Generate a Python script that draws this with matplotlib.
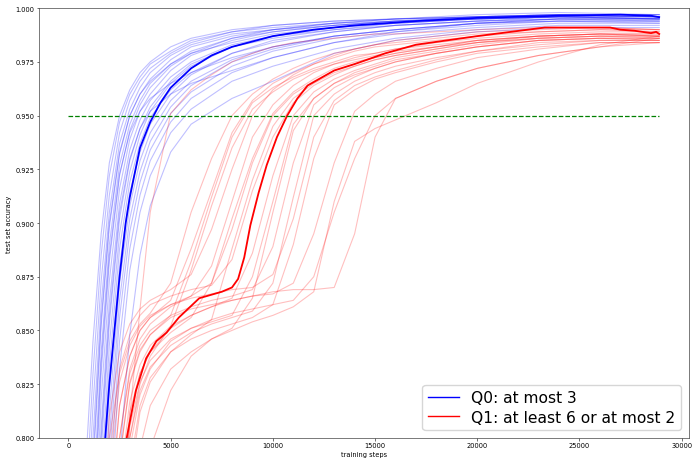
import numpy as np
import matplotlib
matplotlib.use('Agg')
import matplotlib.pyplot as plt
from matplotlib.lines import Line2D


# blue runs (Q0), sampled on a shared step grid
blue_steps = [0, 800, 1200, 1600, 2000, 2500, 3000, 3500, 4000, 5000, 6000,
              8000, 10000, 13000, 16000, 20000, 24000, 28900]
blue_runs = [
    [0.10, 0.78, 0.845, 0.895, 0.928, 0.950, 0.962, 0.970, 0.975, 0.982, 0.986, 0.990, 0.992, 0.994, 0.995, 0.996, 0.997, 0.997],
    [0.10, 0.76, 0.830, 0.885, 0.922, 0.947, 0.960, 0.968, 0.974, 0.980, 0.985, 0.989, 0.991, 0.993, 0.995, 0.996, 0.997, 0.996],
    [0.10, 0.74, 0.815, 0.873, 0.913, 0.942, 0.957, 0.966, 0.972, 0.979, 0.984, 0.989, 0.992, 0.994, 0.995, 0.997, 0.998, 0.997],
    [0.10, 0.72, 0.800, 0.862, 0.905, 0.937, 0.953, 0.963, 0.970, 0.978, 0.983, 0.988, 0.990, 0.993, 0.994, 0.996, 0.997, 0.996],
    [0.10, 0.70, 0.785, 0.852, 0.898, 0.932, 0.950, 0.960, 0.967, 0.976, 0.982, 0.987, 0.990, 0.992, 0.994, 0.995, 0.996, 0.996],
    [0.10, 0.68, 0.770, 0.840, 0.890, 0.927, 0.946, 0.957, 0.965, 0.974, 0.980, 0.986, 0.989, 0.992, 0.994, 0.995, 0.996, 0.995],
    [0.10, 0.66, 0.755, 0.830, 0.882, 0.922, 0.943, 0.955, 0.963, 0.973, 0.979, 0.986, 0.990, 0.993, 0.995, 0.996, 0.997, 0.997],
    [0.10, 0.64, 0.740, 0.818, 0.873, 0.916, 0.939, 0.952, 0.960, 0.971, 0.978, 0.985, 0.989, 0.992, 0.994, 0.996, 0.997, 0.996],
    [0.10, 0.62, 0.725, 0.805, 0.863, 0.909, 0.934, 0.948, 0.957, 0.968, 0.975, 0.983, 0.987, 0.991, 0.993, 0.995, 0.996, 0.996],
    [0.10, 0.60, 0.710, 0.793, 0.853, 0.902, 0.929, 0.944, 0.954, 0.966, 0.974, 0.982, 0.987, 0.990, 0.993, 0.995, 0.996, 0.995],
    [0.10, 0.58, 0.695, 0.780, 0.843, 0.895, 0.924, 0.941, 0.952, 0.965, 0.973, 0.982, 0.986, 0.990, 0.992, 0.994, 0.995, 0.995],
    [0.10, 0.56, 0.680, 0.768, 0.833, 0.888, 0.919, 0.937, 0.949, 0.962, 0.970, 0.979, 0.984, 0.989, 0.992, 0.994, 0.995, 0.995],
    [0.10, 0.54, 0.665, 0.755, 0.823, 0.880, 0.914, 0.933, 0.946, 0.960, 0.969, 0.979, 0.985, 0.989, 0.992, 0.994, 0.996, 0.995],
    [0.10, 0.52, 0.650, 0.742, 0.812, 0.872, 0.908, 0.929, 0.942, 0.957, 0.966, 0.976, 0.982, 0.987, 0.990, 0.993, 0.995, 0.994],
    [0.10, 0.50, 0.635, 0.730, 0.800, 0.864, 0.902, 0.924, 0.938, 0.954, 0.964, 0.975, 0.981, 0.987, 0.990, 0.993, 0.994, 0.994],
    [0.10, 0.48, 0.620, 0.717, 0.790, 0.856, 0.896, 0.919, 0.934, 0.951, 0.961, 0.973, 0.980, 0.986, 0.989, 0.992, 0.994, 0.993],
    [0.10, 0.46, 0.600, 0.700, 0.775, 0.845, 0.888, 0.913, 0.929, 0.947, 0.958, 0.970, 0.977, 0.984, 0.988, 0.991, 0.993, 0.993],
    [0.10, 0.44, 0.580, 0.680, 0.760, 0.832, 0.878, 0.905, 0.922, 0.942, 0.953, 0.966, 0.973, 0.981, 0.986, 0.990, 0.992, 0.992],
    [0.10, 0.40, 0.540, 0.640, 0.720, 0.790, 0.848, 0.885, 0.908, 0.933, 0.946, 0.958, 0.966, 0.979, 0.985, 0.989, 0.991, 0.991],
    [0.10, 0.62, 0.720, 0.800, 0.857, 0.905, 0.930, 0.944, 0.952, 0.960, 0.965, 0.971, 0.977, 0.984, 0.989, 0.993, 0.995, 0.995],
    [0.10, 0.66, 0.760, 0.835, 0.885, 0.923, 0.942, 0.952, 0.958, 0.965, 0.970, 0.977, 0.982, 0.987, 0.990, 0.993, 0.994, 0.994],
    [0.10, 0.70, 0.790, 0.855, 0.900, 0.933, 0.950, 0.960, 0.966, 0.974, 0.979, 0.984, 0.988, 0.991, 0.993, 0.995, 0.996, 0.996],
]

# red runs (Q1), sampled on a shared step grid
red_steps = [0, 1500, 2000, 2500, 3000, 3500, 4000, 5000, 6000, 7000, 8000, 9000,
             10000, 11000, 12000, 13000, 14000, 15000, 16000, 18000, 20000, 23000, 26000, 28900]
red_runs = [
    [0.10, 0.42, 0.58, 0.720, 0.810, 0.860, 0.905, 0.951, 0.962, 0.969, 0.975, 0.979, 0.982, 0.984, 0.985, 0.986, 0.987, 0.988, 0.988, 0.989, 0.990, 0.991, 0.991, 0.990],
    [0.10, 0.70, 0.80, 0.830, 0.845, 0.853, 0.858, 0.872, 0.905, 0.930, 0.950, 0.960, 0.967, 0.972, 0.976, 0.979, 0.981, 0.983, 0.984, 0.986, 0.988, 0.989, 0.990, 0.990],
    [0.10, 0.64, 0.76, 0.815, 0.838, 0.850, 0.856, 0.864, 0.888, 0.915, 0.942, 0.957, 0.965, 0.970, 0.974, 0.977, 0.980, 0.982, 0.983, 0.985, 0.987, 0.989, 0.990, 0.989],
    [0.10, 0.60, 0.72, 0.790, 0.825, 0.840, 0.848, 0.857, 0.882, 0.912, 0.940, 0.956, 0.963, 0.968, 0.972, 0.975, 0.978, 0.979, 0.981, 0.983, 0.985, 0.987, 0.988, 0.988],
    [0.10, 0.55, 0.66, 0.745, 0.800, 0.825, 0.838, 0.852, 0.878, 0.908, 0.935, 0.953, 0.961, 0.967, 0.971, 0.974, 0.976, 0.978, 0.980, 0.982, 0.985, 0.987, 0.988, 0.987],
    [0.10, 0.66, 0.78, 0.826, 0.843, 0.852, 0.857, 0.862, 0.866, 0.880, 0.910, 0.940, 0.955, 0.964, 0.970, 0.974, 0.977, 0.979, 0.981, 0.984, 0.986, 0.988, 0.989, 0.989],
    [0.10, 0.57, 0.68, 0.765, 0.812, 0.830, 0.840, 0.849, 0.856, 0.872, 0.902, 0.930, 0.951, 0.961, 0.967, 0.972, 0.975, 0.977, 0.979, 0.982, 0.985, 0.987, 0.988, 0.988],
    [0.10, 0.62, 0.74, 0.800, 0.832, 0.846, 0.853, 0.861, 0.866, 0.872, 0.897, 0.928, 0.950, 0.960, 0.966, 0.971, 0.974, 0.977, 0.979, 0.982, 0.984, 0.987, 0.988, 0.987],
    [0.10, 0.52, 0.62, 0.710, 0.780, 0.812, 0.826, 0.840, 0.848, 0.855, 0.888, 0.920, 0.945, 0.958, 0.965, 0.970, 0.973, 0.976, 0.978, 0.981, 0.984, 0.986, 0.987, 0.987],
    [0.10, 0.68, 0.79, 0.832, 0.848, 0.857, 0.862, 0.866, 0.869, 0.871, 0.883, 0.915, 0.940, 0.956, 0.964, 0.969, 0.973, 0.976, 0.978, 0.981, 0.984, 0.986, 0.987, 0.987],
    [0.10, 0.58, 0.70, 0.778, 0.817, 0.834, 0.843, 0.852, 0.857, 0.861, 0.865, 0.886, 0.922, 0.950, 0.961, 0.967, 0.971, 0.974, 0.977, 0.980, 0.983, 0.986, 0.987, 0.986],
    [0.10, 0.50, 0.59, 0.680, 0.750, 0.795, 0.815, 0.832, 0.840, 0.846, 0.851, 0.865, 0.905, 0.943, 0.958, 0.965, 0.970, 0.973, 0.976, 0.979, 0.982, 0.985, 0.986, 0.986],
    [0.10, 0.61, 0.73, 0.800, 0.830, 0.843, 0.850, 0.857, 0.861, 0.864, 0.866, 0.869, 0.889, 0.928, 0.955, 0.963, 0.968, 0.972, 0.975, 0.979, 0.982, 0.985, 0.986, 0.985],
    [0.10, 0.55, 0.66, 0.745, 0.800, 0.822, 0.833, 0.843, 0.849, 0.853, 0.856, 0.859, 0.872, 0.912, 0.950, 0.960, 0.966, 0.970, 0.973, 0.977, 0.980, 0.984, 0.985, 0.985],
    [0.10, 0.64, 0.76, 0.815, 0.838, 0.850, 0.856, 0.862, 0.865, 0.867, 0.869, 0.870, 0.876, 0.902, 0.940, 0.957, 0.964, 0.968, 0.971, 0.976, 0.980, 0.983, 0.985, 0.985],
    [0.10, 0.53, 0.63, 0.720, 0.786, 0.815, 0.828, 0.840, 0.846, 0.850, 0.853, 0.856, 0.862, 0.890, 0.930, 0.955, 0.962, 0.967, 0.970, 0.975, 0.979, 0.982, 0.984, 0.984],
    [0.10, 0.60, 0.72, 0.790, 0.826, 0.841, 0.848, 0.856, 0.860, 0.862, 0.864, 0.866, 0.867, 0.872, 0.895, 0.928, 0.952, 0.960, 0.966, 0.972, 0.977, 0.981, 0.984, 0.984],
    [0.10, 0.54, 0.65, 0.735, 0.795, 0.820, 0.832, 0.845, 0.851, 0.855, 0.858, 0.860, 0.862, 0.864, 0.875, 0.905, 0.930, 0.950, 0.958, 0.966, 0.972, 0.978, 0.982, 0.984],
    [0.10, 0.48, 0.57, 0.655, 0.725, 0.770, 0.795, 0.822, 0.838, 0.846, 0.850, 0.854, 0.857, 0.861, 0.868, 0.910, 0.938, 0.944, 0.948, 0.956, 0.965, 0.975, 0.983, 0.987],
    [0.10, 0.56, 0.67, 0.755, 0.808, 0.830, 0.840, 0.851, 0.857, 0.861, 0.864, 0.866, 0.868, 0.869, 0.869, 0.870, 0.895, 0.940, 0.958, 0.966, 0.972, 0.978, 0.982, 0.986],
    [0.10, 0.72, 0.81, 0.840, 0.853, 0.860, 0.864, 0.869, 0.876, 0.897, 0.925, 0.950, 0.962, 0.969, 0.974, 0.978, 0.981, 0.983, 0.985, 0.987, 0.989, 0.990, 0.991, 0.990],
    [0.10, 0.56, 0.67, 0.755, 0.805, 0.826, 0.836, 0.846, 0.851, 0.854, 0.857, 0.875, 0.910, 0.946, 0.958, 0.965, 0.969, 0.972, 0.975, 0.979, 0.982, 0.985, 0.986, 0.986],
]

# bold median curves
blue_med_steps = [0, 1000, 1500, 1800, 2000, 2500, 2800, 3000, 3500, 4000, 4500, 5000, 6000,
                  7000, 8000, 10000, 12000, 14000, 17000, 20000, 24000, 27000, 28500, 28900]
blue_med_acc = [0.10, 0.62, 0.755, 0.800, 0.825, 0.875, 0.900, 0.912, 0.935, 0.947, 0.956, 0.963, 0.972,
                0.978, 0.982, 0.987, 0.990, 0.992, 0.994, 0.9955, 0.9965, 0.997, 0.9965, 0.9958]
red_med_steps = [0, 2000, 2400, 2850, 3300, 3800, 4300, 4800, 5400, 6400, 7500, 8000, 8300, 8600,
                 8900, 9300, 9700, 10200, 10700, 11200, 11700, 13000, 14000, 15500, 17000, 20000,
                 23300, 26500, 27000, 27700, 28500, 28750, 28900]
red_med_acc = [0.10, 0.70, 0.76, 0.800, 0.822, 0.837, 0.845, 0.849, 0.856, 0.865, 0.868, 0.870, 0.874, 0.884,
               0.899, 0.914, 0.927, 0.940, 0.950, 0.958, 0.964, 0.971, 0.974, 0.979, 0.983, 0.987,
               0.991, 0.991, 0.990, 0.9895, 0.9884, 0.989, 0.988]

threshold = 0.95
labels = ['Q0: at most 3', 'Q1: at least 6 or at most 2']


def plot_runs():
    fig = plt.figure(figsize=(6.95, 4.6), dpi=100)
    ax = fig.add_axes([0.056, 0.046, 0.935, 0.934])

    for run in blue_runs:
        ax.plot(blue_steps, run, color='blue', alpha=0.25, linewidth=0.8)
    for run in red_runs:
        ax.plot(red_steps, run, color='red', alpha=0.25, linewidth=0.8)

    ax.plot(blue_med_steps, blue_med_acc, color='blue', linewidth=1.3)
    ax.plot(red_med_steps, red_med_acc, color='red', linewidth=1.3)

    ax.hlines(threshold, 0, 28900, colors='green', linestyles='--', linewidth=0.9)

    ax.set_ylim(0.8, 1.0)
    ax.set_xlim(-1445, 30345)
    ax.set_xticks(np.arange(0, 30001, 5000))
    ax.set_yticks(np.arange(0.8, 1.0001, 0.025))
    ax.yaxis.set_major_formatter(plt.FormatStrFormatter('%.3f'))
    ax.tick_params(labelsize=4.8, length=1.8, width=0.4, pad=1.5)
    for s in ax.spines.values():
        s.set_linewidth(0.5)
        s.set_color('#444444')

    ax.set_xlabel('training steps', fontsize=4.8, labelpad=1.5)
    ax.set_ylabel('test set accuracy', fontsize=4.8, labelpad=2)

    handles = [Line2D([0], [0], color='blue', linewidth=1.0),
               Line2D([0], [0], color='red', linewidth=1.0)]
    ax.legend(handles, labels, loc='lower right', fontsize=11.2,
              handlelength=2.0, borderpad=0.35, labelspacing=0.3, handletextpad=0.8,
              borderaxespad=0.5)

    fig.savefig('out.png', dpi=100)


if __name__ == "__main__":
    plot_runs()
